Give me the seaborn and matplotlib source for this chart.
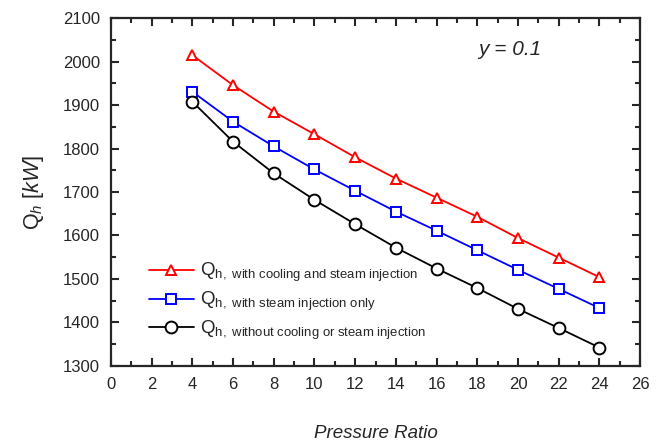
import numpy as np
import pandas as pd
import matplotlib
matplotlib.use("Agg")
import matplotlib.pyplot as plt
import seaborn as sns
from matplotlib.ticker import MultipleLocator

# Data
pressure_ratio = [4, 6, 8, 10, 12, 14, 16, 18, 20, 22, 24]
q_cool_steam = [2015, 1946, 1885, 1833, 1780, 1731, 1687, 1643, 1594, 1549, 1504]
q_steam_only = [1931, 1862, 1805, 1752, 1703, 1655, 1611, 1566, 1521, 1477, 1433]
q_no_cooling = [1908, 1816, 1743, 1682, 1626, 1572, 1524, 1479, 1431, 1387, 1342]

labels = [r"Q$_{\mathrm{h,\ with\ cooling\ and\ steam\ injection}}$",
          r"Q$_{\mathrm{h,\ with\ steam\ injection\ only}}$",
          r"Q$_{\mathrm{h,\ without\ cooling\ or\ steam\ injection}}$"]
colors = ["#ff0000", "#0000ff", "#000000"]
markers = ["^", "s", "o"]
sizes = [7, 7, 8.5]

sns.set_theme(style="ticks")
plt.rcParams["font.family"] = ["Liberation Sans", "DejaVu Sans"]
plt.rcParams["mathtext.fontset"] = "custom"
plt.rcParams["mathtext.rm"] = "Liberation Sans"
plt.rcParams["mathtext.it"] = "Liberation Sans:italic"

fig = plt.figure(figsize=(6.6, 4.44), dpi=100)
ax = fig.add_axes([0.168, 0.176, 0.802, 0.783])

for ys, lab, c, m, s in zip([q_cool_steam, q_steam_only, q_no_cooling], labels, colors, markers, sizes):
    df = pd.DataFrame({"x": pressure_ratio, "y": ys})
    sns.lineplot(data=df, x="x", y="y", ax=ax, color=c, marker=m, markersize=s,
                 markerfacecolor="white", markeredgecolor=c, markeredgewidth=1.4,
                 linewidth=1.3, label=lab)

ax.set_xlim(0, 26)
ax.set_ylim(1300, 2100)
ax.xaxis.set_major_locator(MultipleLocator(2))
ax.xaxis.set_minor_locator(MultipleLocator(1))
ax.yaxis.set_major_locator(MultipleLocator(100))
ax.yaxis.set_minor_locator(MultipleLocator(50))
ax.tick_params(which="both", direction="in", top=True, right=True, width=1.5, labelsize=12)
ax.tick_params(which="major", length=6, pad=8)
ax.tick_params(which="minor", length=3.5)
for sp in ax.spines.values():
    sp.set_linewidth(1.6)

ax.set_xlabel("Pressure Ratio", fontsize=13.5, style="italic", labelpad=24)
ax.set_ylabel(r"$\mathrm{Q}_{h}\ [kW]$", fontsize=15.5, labelpad=12)
ax.text(0.694, 0.91, "y = 0.1", transform=ax.transAxes, fontsize=15, style="italic",
        ha="left", va="center")

ax.legend(loc="center left", bbox_to_anchor=(0.04, 0.185), frameon=False,
          fontsize=13.5, handlelength=2.4, labelspacing=0.3, handletextpad=0.3)

fig.savefig("out.png", dpi=100)
